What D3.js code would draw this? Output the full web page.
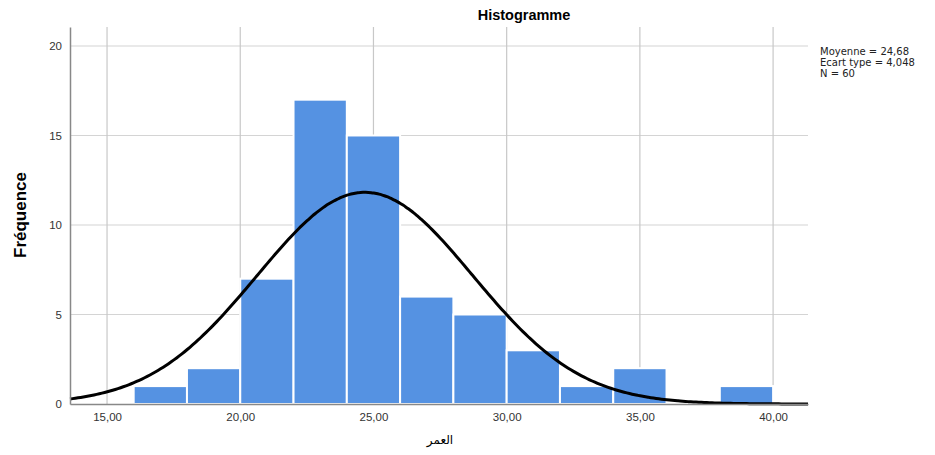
<!DOCTYPE html>
<html>
<head>
<meta charset="utf-8">
<script src="https://cdn.jsdelivr.net/npm/d3@7"></script>
<style>
  body { margin: 0; background: #fff; }
  .tick text { font-family: "Liberation Sans", Arial, sans-serif; font-size: 11.5px; fill: #333; }
</style>
</head>
<body>
<div id="chart"></div>
<script>
// Histogram bins (lower edge of each 2-year bin) and counts
var binStarts = [16, 18, 20, 22, 24, 26, 28, 30, 32, 34, 36, 38];
var counts = [1, 2, 7, 17, 15, 6, 5, 3, 1, 2, 0, 1];
var binWidth = 2;

// Tick labels
var xTicks = [15, 20, 25, 30, 35, 40];
var yTicks = [0, 5, 10, 15, 20];

// Summary stats shown in the legend
var mean = 24.68;
var sd = 4.048;
var n = 60;
var statLines = ["Moyenne = 24,68", "Ecart type = 4,048", "N = 60"];

var svgWidth = 935;
var svgHeight = 455;

var margin = { top: 27, right: 127, bottom: 51, left: 70 };
var width = svgWidth - margin.left - margin.right;
var height = svgHeight - margin.top - margin.bottom;

var svg = d3.select("#chart")
  .append("svg")
  .attr("width", svgWidth)
  .attr("height", svgHeight);

var chartGroup = svg.append("g")
  .attr("transform", `translate(${margin.left}, ${margin.top})`);

var xScale = d3.scaleLinear()
  .domain([13.61, 41.31])
  .range([0, width]);

var yScale = d3.scaleLinear()
  .domain([0, 21.06])
  .range([height, 0]);

// Gridlines
chartGroup.append("g")
  .selectAll("line")
  .data(yTicks.filter(d => d > 0))
  .enter()
  .append("line")
  .attr("x1", 0)
  .attr("x2", width)
  .attr("y1", d => yScale(d))
  .attr("y2", d => yScale(d))
  .attr("stroke", "#d4d4d4")
  .attr("stroke-width", 1.2);

chartGroup.append("g")
  .selectAll("line")
  .data(xTicks)
  .enter()
  .append("line")
  .attr("x1", d => xScale(d))
  .attr("x2", d => xScale(d))
  .attr("y1", 0)
  .attr("y2", height)
  .attr("stroke", "#c8c8c8")
  .attr("stroke-width", 1.2);

// Bars
chartGroup.selectAll("rect.bar")
  .data(binStarts.map((b, i) => ({ x0: b, count: counts[i] })).filter(d => d.count > 0))
  .enter()
  .append("rect")
  .attr("class", "bar")
  .attr("x", d => xScale(d.x0))
  .attr("y", d => yScale(d.count))
  .attr("width", d => xScale(d.x0 + binWidth) - xScale(d.x0))
  .attr("height", d => yScale(0) - yScale(d.count))
  .attr("fill", "#5592e2")
  .attr("stroke", "#ffffff")
  .attr("stroke-width", 2);

// Normal curve from the mean / std dev in the legend
var curvePts = d3.range(xScale.domain()[0], xScale.domain()[1] + 0.01, 0.1).map(function(x) {
  var z = (x - mean) / sd;
  return [x, n * binWidth * Math.exp(-0.5 * z * z) / (sd * Math.sqrt(2 * Math.PI))];
});

chartGroup.append("path")
  .datum(curvePts)
  .attr("fill", "none")
  .attr("stroke", "#000")
  .attr("stroke-width", 3)
  .attr("d", d3.line().x(d => xScale(d[0])).y(d => yScale(d[1])).curve(d3.curveBasis));

// Axes
var bottomAxis = d3.axisBottom(xScale)
  .tickValues(xTicks)
  .tickSize(0)
  .tickPadding(9)
  .tickFormat(d => d3.format(".2f")(d).replace(".", ","));

var leftAxis = d3.axisLeft(yScale)
  .tickValues(yTicks)
  .tickSize(0)
  .tickPadding(8);

chartGroup.append("g")
  .attr("transform", `translate(0, ${height})`)
  .call(bottomAxis)
  .call(g => g.select(".domain").attr("stroke", "#888").attr("stroke-width", 1.5));

chartGroup.append("g")
  .call(leftAxis)
  .call(g => g.select(".domain").attr("stroke", "#888").attr("stroke-width", 1.5));

// Title
svg.append("text")
  .attr("x", 524)
  .attr("y", 20)
  .attr("text-anchor", "middle")
  .style("font-family", "Liberation Sans, Arial, sans-serif")
  .style("font-size", "14.5px")
  .style("font-weight", "bold")
  .text("Histogramme");

// Axis labels
svg.append("text")
  .attr("transform", "rotate(-90)")
  .attr("x", -215)
  .attr("y", 26)
  .attr("text-anchor", "middle")
  .style("font-family", "Liberation Sans Narrow, Liberation Sans, Arial, sans-serif")
  .style("font-size", "17px")
  .style("font-weight", "bold")
  .text("Fréquence");

svg.append("text")
  .attr("x", 440)
  .attr("y", 444)
  .attr("text-anchor", "middle")
  .style("font-family", "DejaVu Sans, sans-serif")
  .style("font-size", "12px")
  .text("العمر");

// Stats legend
svg.append("g")
  .selectAll("text")
  .data(statLines)
  .enter()
  .append("text")
  .attr("x", 820)
  .attr("y", (d, i) => 55 + i * 10.8)
  .style("font-family", "DejaVu Sans, sans-serif")
  .style("font-size", "10px")
  .style("fill", "#222")
  .text(d => d);
</script>
</body>
</html>
